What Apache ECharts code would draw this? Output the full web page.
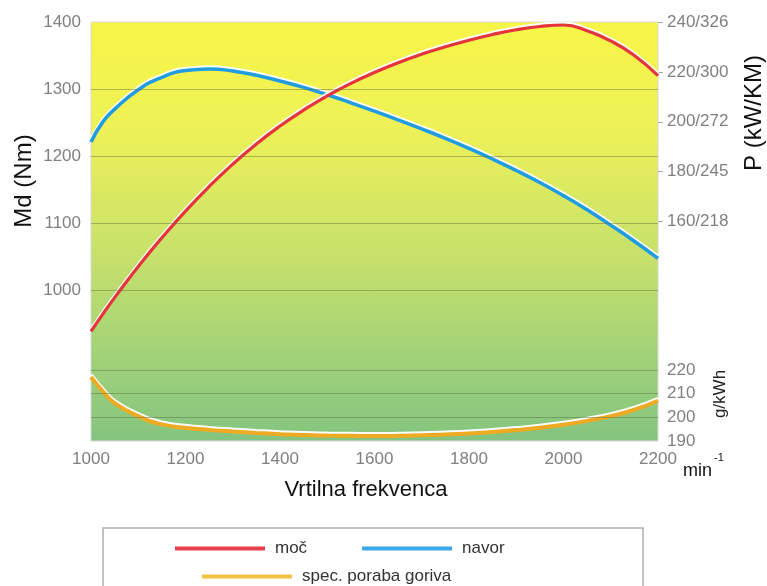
<!DOCTYPE html>
<html>
<head>
    <meta charset="utf-8">
    <script src="https://cdn.jsdelivr.net/npm/echarts@6.0.0/dist/echarts.min.js"></script>
    <style>
        body { margin: 0; background: #fff; }
        #main { width: 767px; height: 586px; }
    </style>
</head>
<body>
    <div id="main"></div>
    <script type="text/javascript">
        // vrtilna frekvenca (min-1)
        var rpm = [1000, 1025, 1050, 1100, 1150, 1200, 1250, 1300, 1350, 1400, 1450, 1500, 1550, 1600,
                   1650, 1700, 1750, 1800, 1850, 1900, 1950, 2000, 2050, 2100, 2150, 2200];
        // moč P (kW)
        var moc = [116, 122.9, 129.5, 142, 153.5, 164.2, 174, 183, 191.1, 198.3, 204.7, 210.4, 215.4, 219.8,
                   223.7, 227.1, 230.1, 232.7, 235, 236.9, 238.2, 238.8, 236.5, 232.4, 226.6, 218.5];
        // navor Md (Nm)
        var navor = [1221, 1251, 1270, 1299, 1317.5, 1327.5, 1330, 1327, 1320.5, 1312, 1302.5, 1291.5, 1279.5, 1267,
                     1254, 1240.5, 1226.5, 1211.5, 1195.5, 1178.5, 1160.5, 1141, 1120, 1097, 1073, 1047.5];
        // spec. poraba goriva (g/kWh)
        var poraba = [217, 211, 206, 200.5, 197, 195.6, 194.7, 194, 193.4, 192.9, 192.5, 192.3, 192.2, 192.1,
                      192.2, 192.4, 192.75, 193.2, 193.8, 194.6, 195.6, 196.9, 198.5, 200.5, 203.2, 207];

        var xTicks = [1000, 1200, 1400, 1600, 1800, 2000, 2200];
        var mdTicks = [1000, 1100, 1200, 1300, 1400];
        var pTicks = [160, 180, 200, 220, 240];
        var pKmLabels = { 160: '160/218', 180: '180/245', 200: '200/272', 220: '220/300', 240: '240/326' };
        var gTicks = [190, 200, 210, 220];

        function pairs(ys) {
            return rpm.map(function (r, i) { return [r, ys[i]]; });
        }
        function plain(v) { return String(v); }

        var font = 'Liberation Sans';
        var labelColor = '#808080';
        var gridLine = { type: 'solid', color: 'rgba(95,105,60,0.45)', width: 1 };
        var glow = 'rgba(255,255,255,0.95)';

        var chart = echarts.init(document.getElementById('main'));
        var option = {
            animation: false,
            grid: {
                left: 91, right: 109, top: 22, bottom: 145,
                show: true,
                borderColor: '#d8d8d8',
                borderWidth: 1,
                backgroundColor: new echarts.graphic.LinearGradient(0, 0, 0, 1, [
                    { offset: 0, color: '#f8f547' },
                    { offset: 0.25, color: '#eef157' },
                    { offset: 0.55, color: '#c8e16b' },
                    { offset: 0.8, color: '#a0d178' },
                    { offset: 1, color: '#84c480' }
                ])
            },
            xAxis: {
                type: 'value', min: 1000, max: 2200, interval: 200,
                axisLine: { show: false }, axisTick: { show: false }, splitLine: { show: false },
                axisLabel: { customValues: xTicks, formatter: plain, margin: 10, color: labelColor, fontSize: 17, fontFamily: font }
            },
            yAxis: [
                {
                    type: 'value', position: 'left', min: 775, max: 1400, interval: 25,
                    axisLine: { show: false }, axisTick: { show: false }, splitLine: { show: false },
                    axisLabel: { customValues: mdTicks, formatter: plain, margin: 10, color: labelColor, fontSize: 17, fontFamily: font }
                },
                {
                    type: 'value', position: 'right', min: 72, max: 240, interval: 4,
                    axisLine: { show: false }, splitLine: { show: false },
                    axisTick: { show: true, customValues: pTicks, length: 5, lineStyle: { color: '#aaa' } },
                    axisLabel: {
                        customValues: pTicks, margin: 9, color: labelColor, fontSize: 17, fontFamily: font,
                        formatter: function (v) { return pKmLabels[v]; }
                    }
                },
                {
                    type: 'value', position: 'right', min: 190, max: 367, interval: 10,
                    axisLine: { show: false }, axisTick: { show: false }, splitLine: { show: false },
                    axisLabel: { customValues: gTicks, formatter: plain, margin: 9, color: labelColor, fontSize: 17, fontFamily: font }
                }
            ],
            legend: [
                {
                    data: ['moč', 'navor'], left: 170, top: 535, icon: 'rect',
                    itemWidth: 90, itemHeight: 4, itemGap: 55,
                    textStyle: { fontSize: 17, fontFamily: font, color: '#333', padding: [0, 0, 0, 5] }
                },
                {
                    data: ['spec. poraba goriva'], left: 197, top: 563, icon: 'rect',
                    itemWidth: 90, itemHeight: 4,
                    textStyle: { fontSize: 17, fontFamily: font, color: '#333', padding: [0, 0, 0, 5] }
                }
            ],
            series: [
                {
                    name: 'navor', type: 'line', yAxisIndex: 0, smooth: 0.5, symbol: 'none',
                    data: pairs(navor),
                    color: '#3aa8ea',
                    lineStyle: { color: '#1f9de0', width: 3.5, shadowColor: glow, shadowOffsetY: -2 },
                    markLine: {
                        silent: true, symbol: ['none', 'none'], label: { show: false },
                        lineStyle: gridLine,
                        data: mdTicks.slice(0, 4).map(function (v) { return { yAxis: v }; })
                    }
                },
                {
                    name: 'moč', type: 'line', yAxisIndex: 1, smooth: 0.5, symbol: 'none',
                    data: pairs(moc),
                    color: '#e8404f',
                    lineStyle: { color: '#e5343c', width: 3.2, shadowColor: glow, shadowOffsetY: -2 }
                },
                {
                    name: 'spec. poraba goriva', type: 'line', yAxisIndex: 2, smooth: 0.5, symbol: 'none',
                    data: pairs(poraba),
                    color: '#f4c040',
                    lineStyle: { color: '#eeaa22', width: 4, shadowColor: glow, shadowOffsetY: -2 },
                    markLine: {
                        silent: true, symbol: ['none', 'none'], label: { show: false },
                        lineStyle: gridLine,
                        data: gTicks.slice(1).map(function (v) { return { yAxis: v }; })
                    }
                }
            ],
            graphic: [
                {
                    type: 'text', x: 24, y: 181, rotation: Math.PI / 2,
                    style: { text: 'Md (Nm)', fontSize: 24, fontFamily: font, fill: '#111', align: 'center', verticalAlign: 'middle' }
                },
                {
                    type: 'text', x: 754, y: 113, rotation: Math.PI / 2,
                    style: { text: 'P (kW/KM)', fontSize: 24, fontFamily: font, fill: '#111', align: 'center', verticalAlign: 'middle' }
                },
                {
                    type: 'text', x: 720, y: 394, rotation: Math.PI / 2,
                    style: { text: 'g/kWh', fontSize: 17, fontFamily: font, fill: '#222', align: 'center', verticalAlign: 'middle' }
                },
                {
                    type: 'text', x: 366, y: 490,
                    style: { text: 'Vrtilna frekvenca', fontSize: 22, fontFamily: font, fill: '#111', align: 'center', verticalAlign: 'middle' }
                },
                {
                    type: 'text', x: 683, y: 471,
                    style: { text: 'min', fontSize: 18, fontFamily: font, fill: '#111', align: 'left', verticalAlign: 'middle' }
                },
                {
                    type: 'text', x: 714, y: 458,
                    style: { text: '-1', fontSize: 11, fontFamily: font, fill: '#111', align: 'left', verticalAlign: 'middle' }
                },
                {
                    type: 'rect', shape: { x: 103, y: 528, width: 540, height: 70 },
                    style: { fill: 'none', stroke: '#b0b0b0', lineWidth: 1.5 }
                }
            ]
        };
        chart.setOption(option);
    </script>
</body>
</html>
